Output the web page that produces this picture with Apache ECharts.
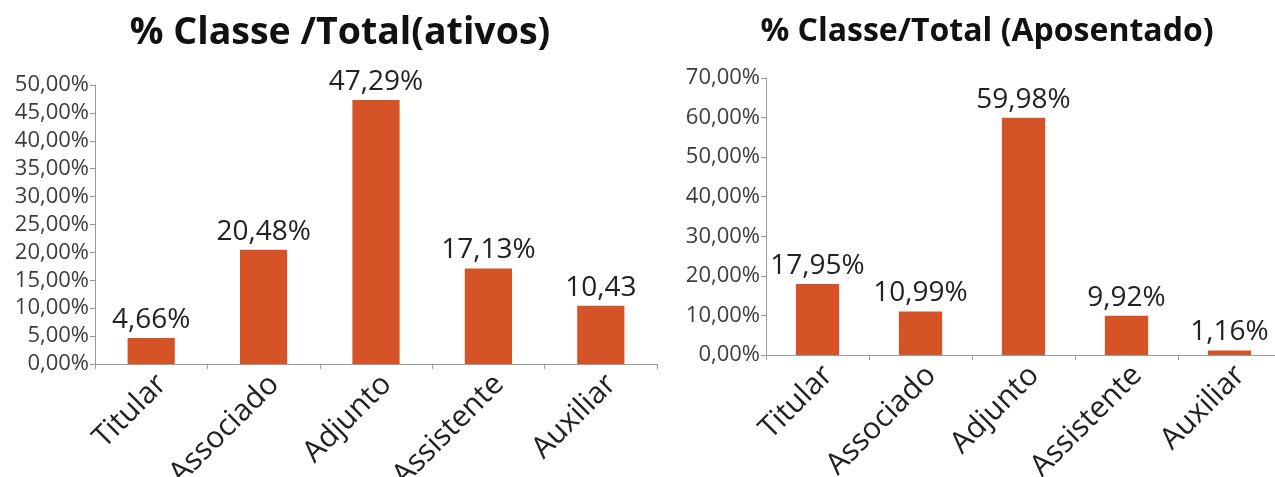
<!DOCTYPE html>
<html>
<head>
<meta charset="utf-8">
<script src="https://cdn.jsdelivr.net/npm/echarts@6/dist/echarts.min.js"></script>
<style>html,body{margin:0;padding:0;background:#fff}#c{width:1275px;height:477px}</style>
</head>
<body>
<div id="c"></div>
<script>
const categories = ['Titular', 'Associado', 'Adjunto', 'Assistente', 'Auxiliar'];
const ativosValues = [4.66, 20.48, 47.29, 17.13, 10.43];
const ativosLabels = ['4,66%', '20,48%', '47,29%', '17,13%', '10,43'];
const aposValues = [17.95, 10.99, 59.98, 9.92, 1.16];
const aposLabels = ['17,95%', '10,99%', '59,98%', '9,92%', '1,16%'];
const titles = ['% Classe /Total(ativos)', '% Classe/Total (Aposentado)'];

const FONT = '"Open Sans", sans-serif';
const BAR = '#D65328';
const AX = '#9a9a9a';
const fmt = v => v.toFixed(2).replace('.', ',') + '%';

function xAxis(grid) {
  return {
    type: 'category', gridIndex: grid, data: categories,
    axisLine: {lineStyle: {color: AX}},
    axisTick: {show: true, alignWithLabel: false, length: 5, lineStyle: {color: AX}},
    axisLabel: {rotate: 45, fontSize: 30, color: '#222', fontFamily: FONT, margin: 5, interval: 0,
      verticalAlign: 'top'}
  };
}
function yAxis(grid, max, interval) {
  return {
    type: 'value', gridIndex: grid, min: 0, max: max, interval: interval,
    axisLine: {show: true, lineStyle: {color: AX}},
    axisTick: {show: true, length: 5, lineStyle: {color: AX}},
    splitLine: {show: false},
    axisLabel: {fontSize: 22, color: '#3c3c3c', fontFamily: FONT, margin: 6, formatter: fmt}
  };
}
function series(idx, values, labels) {
  return {
    type: 'bar', xAxisIndex: idx, yAxisIndex: idx, data: values,
    barWidth: '42%', itemStyle: {color: BAR},
    label: {show: true, position: 'top', distance: 4, fontSize: 28, color: '#222', fontFamily: FONT,
      formatter: p => labels[p.dataIndex]}
  };
}
const chart = echarts.init(document.getElementById('c'));
chart.setOption({
  animation: false,
  title: [
    {text: titles[0], left: 335, top: 9, textAlign: 'center',
     textStyle: {fontSize: 37.5, fontWeight: 'bold', color: '#111', fontFamily: FONT}},
    {text: titles[1], left: 982, top: 11, textAlign: 'center',
     textStyle: {fontSize: 32, fontWeight: 'bold', color: '#111', fontFamily: FONT}}
  ],
  grid: [
    {left: 95, right: 618, top: 85, bottom: 113, containLabel: false, outerBoundsMode: 'none'},
    {left: 766, right: -6, top: 78, bottom: 122, containLabel: false, outerBoundsMode: 'none'}
  ],
  xAxis: [xAxis(0), xAxis(1)],
  yAxis: [yAxis(0, 50, 5), yAxis(1, 70, 10)],
  series: [series(0, ativosValues, ativosLabels), series(1, aposValues, aposLabels)]
});
</script>
</body>
</html>
